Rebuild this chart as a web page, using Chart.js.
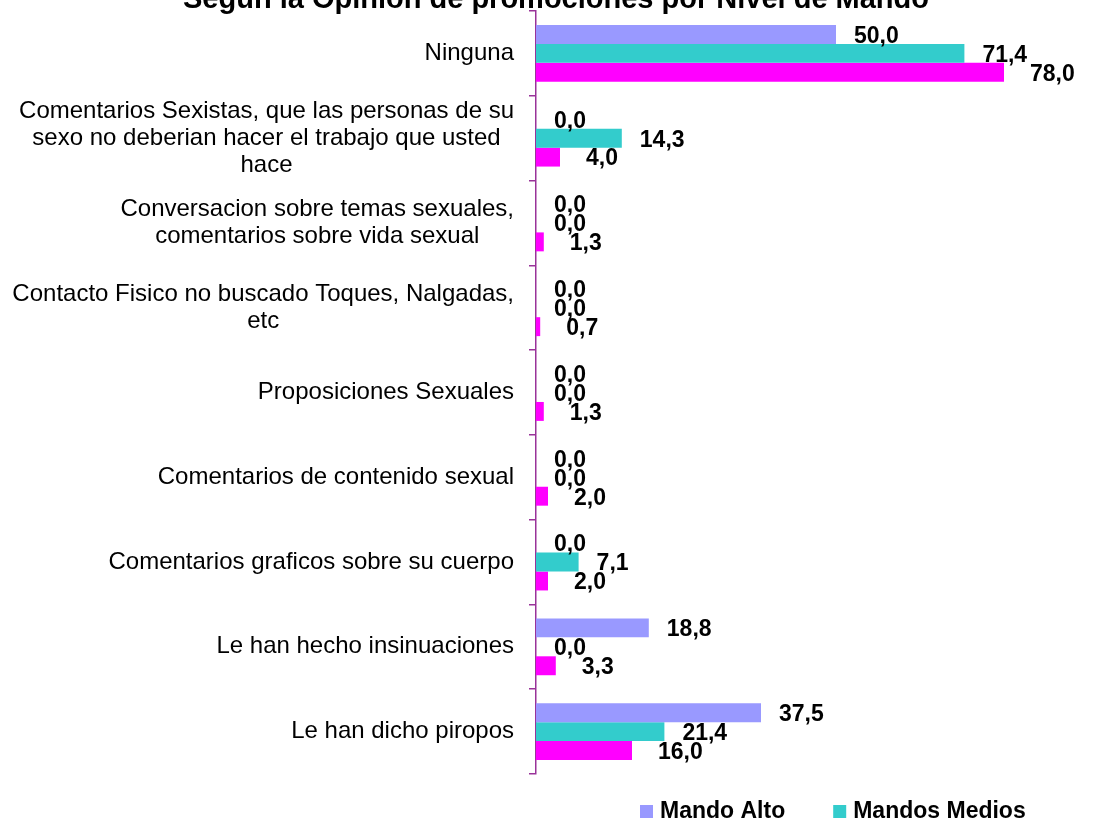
<!DOCTYPE html>
<html>
<head>
<meta charset="utf-8">
<script src="https://cdn.jsdelivr.net/npm/chart.js@4"></script>
<style>
  html, body { margin: 0; padding: 0; background: #fff; overflow: hidden; }
  #wrap { width: 1112px; height: 820px; position: relative; }
</style>
</head>
<body>
<div id="wrap"><canvas id="grafico"></canvas></div>
<script>
// datos del grafico
const titulo = 'Según la Opinión de promociones por Nivel de Mando';
const categorias = [
  ['Ninguna'],
  ['Comentarios Sexistas, que las personas de su', 'sexo no deberian hacer el trabajo que usted', 'hace'],
  ['Conversacion sobre temas sexuales,', 'comentarios sobre vida sexual'],
  ['Contacto Fisico no buscado Toques, Nalgadas,', 'etc'],
  ['Proposiciones Sexuales'],
  ['Comentarios de contenido sexual'],
  ['Comentarios graficos sobre su cuerpo'],
  ['Le han hecho insinuaciones'],
  ['Le han dicho piropos']
];
const mandoAlto = [50.0, 0.0, 0.0, 0.0, 0.0, 0.0, 0.0, 18.8, 37.5];
const mandosMedios = [71.4, 14.3, 0.0, 0.0, 0.0, 0.0, 7.1, 0.0, 21.4];
const mandosBajos = [78.0, 4.0, 1.3, 0.7, 1.3, 2.0, 2.0, 3.3, 16.0];
const series = ['Mando Alto', 'Mandos Medios', 'Mandos Bajos'];

const FUENTE = "Arial, 'Liberation Sans', sans-serif";
Chart.defaults.font.family = FUENTE;
Chart.defaults.color = '#000';

// etiquetas de valor al final de cada barra
const etiquetasValor = {
  id: 'etiquetasValor',
  afterDatasetsDraw(chart) {
    const ctx = chart.ctx;
    ctx.save();
    ctx.font = 'bold 23px ' + FUENTE;
    ctx.fillStyle = '#000';
    ctx.textAlign = 'left';
    ctx.textBaseline = 'middle';
    chart.data.datasets.forEach((ds, i) => {
      const meta = chart.getDatasetMeta(i);
      const desp = i === 2 ? 26 : 18;
      meta.data.forEach((bar, j) => {
        const txt = ds.data[j].toFixed(1).replace('.', ',');
        ctx.fillText(txt, bar.x + desp, bar.y + 2);
      });
    });
    ctx.restore();
  }
};

// etiquetas de categoria: bloque alineado a la derecha, lineas centradas
const etiquetasEje = {
  id: 'etiquetasEje',
  afterDraw(chart) {
    const ctx = chart.ctx;
    const eje = chart.scales.y;
    const derecha = eje.right - 22;
    const alto = 27;
    ctx.save();
    ctx.font = '24px ' + FUENTE;
    ctx.fillStyle = '#000';
    ctx.textAlign = 'center';
    ctx.textBaseline = 'middle';
    chart.data.labels.forEach((lineas, i) => {
      const yc = eje.getPixelForValue(i);
      const ancho = Math.max(...lineas.map(l => ctx.measureText(l).width));
      const xc = derecha - ancho / 2;
      lineas.forEach((l, k) => {
        ctx.fillText(l, xc, yc + (k - (lineas.length - 1) / 2) * alto);
      });
    });
    ctx.restore();
  }
};

// leyenda (solo se ven las dos primeras series en el original)
const leyenda = {
  id: 'leyenda',
  afterDraw(chart) {
    const ctx = chart.ctx;
    ctx.save();
    ctx.font = 'bold 23px ' + FUENTE;
    ctx.textBaseline = 'middle';
    ctx.textAlign = 'left';
    let x = 640;
    const y = 811;
    chart.data.datasets.slice(0, 2).forEach(ds => {
      ctx.fillStyle = ds.backgroundColor;
      ctx.fillRect(x, y - 6, 13, 13);
      ctx.fillStyle = '#000';
      ctx.fillText(ds.label, x + 20, y + 1);
      x += 20 + ctx.measureText(ds.label).width + 48;
    });
    ctx.restore();
  }
};

const ctx = document.getElementById('grafico').getContext('2d');
new Chart(ctx, {
  type: 'bar',
  data: {
    labels: categorias,
    datasets: [
      { label: series[0], data: mandoAlto, backgroundColor: '#9999FF' },
      { label: series[1], data: mandosMedios, backgroundColor: '#33CCCC' },
      { label: series[2], data: mandosBajos, backgroundColor: '#FF00FF' }
    ]
  },
  options: {
    indexAxis: 'y',
    responsive: true,
    maintainAspectRatio: false,
    animation: false,
    layout: { padding: { left: 0, right: 0, top: 0, bottom: 46 } },
    datasets: {
      bar: { barPercentage: 1, categoryPercentage: 0.67 }
    },
    scales: {
      x: { display: false, min: 0, max: 96 },
      y: {
        grid: {
          display: true,
          drawOnChartArea: false,
          drawTicks: true,
          tickLength: 7,
          lineWidth: 1.5,
          color: '#993399',
          offset: true
        },
        border: { display: true, color: '#993399', width: 1.5 },
        ticks: { display: false },
        afterFit(scale) { scale.width = 536; }
      }
    },
    plugins: {
      legend: { display: false },
      tooltip: { enabled: false },
      title: {
        display: true,
        text: titulo,
        font: { size: 29, weight: 'bold', lineHeight: 1 },
        color: '#000',
        padding: { top: -14.5, bottom: -3.5 }
      }
    }
  },
  plugins: [etiquetasValor, etiquetasEje, leyenda]
});
</script>
</body>
</html>
